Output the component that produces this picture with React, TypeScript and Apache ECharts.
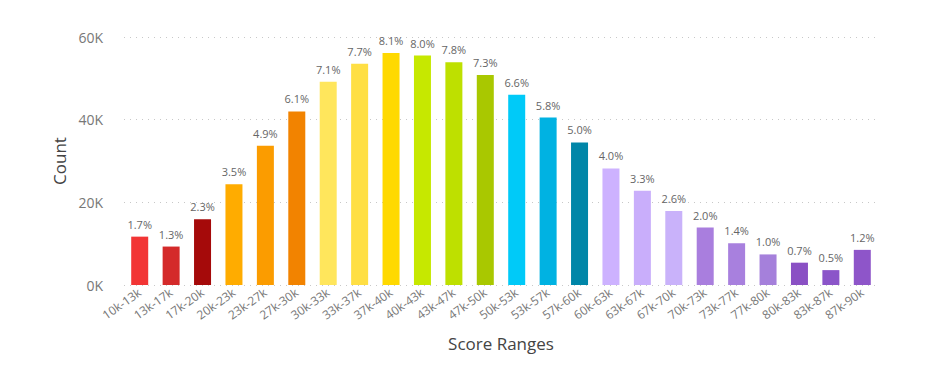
import React, { useEffect, useRef } from "react";
import * as echarts from "echarts";

const categories = [
  "10k-13k", "13k-17k", "17k-20k", "20k-23k", "23k-27k", "27k-30k",
  "30k-33k", "33k-37k", "37k-40k", "40k-43k", "43k-47k", "47k-50k",
  "50k-53k", "53k-57k", "57k-60k", "60k-63k", "63k-67k", "67k-70k",
  "70k-73k", "73k-77k", "77k-80k", "80k-83k", "83k-87k", "87k-90k",
];

const counts = [
  11700, 9300, 15900, 24400, 33700, 42000,
  49200, 53500, 56100, 55500, 53900, 50800,
  46000, 40500, 34500, 28200, 22800, 17900,
  13900, 10100, 7400, 5400, 3600, 8500,
];

const percentLabels = [
  "1.7%", "1.3%", "2.3%", "3.5%", "4.9%", "6.1%",
  "7.1%", "7.7%", "8.1%", "8.0%", "7.8%", "7.3%",
  "6.6%", "5.8%", "5.0%", "4.0%", "3.3%", "2.6%",
  "2.0%", "1.4%", "1.0%", "0.7%", "0.5%", "1.2%",
];

const barColors = [
  "#F23535", "#D42A2A", "#A50A0A", "#FFAC00", "#FB9C00", "#F28300",
  "#FFE65C", "#FFDF44", "#FFD900", "#C6E800", "#BEE000", "#A9C800",
  "#00CAF8", "#00B2E2", "#0086A8", "#CDB2FF", "#C9AEFB", "#C9B2FA",
  "#A97EDE", "#A880DE", "#A580DB", "#8A50C4", "#8B55C9", "#8E55C9",
];

const yTicks = [0, 20000, 40000, 60000];

const FONT = "'Open Sans', 'DejaVu Sans', sans-serif";

export default function App() {
  const ref = useRef<HTMLDivElement>(null);
  useEffect(() => {
    if (!ref.current) return;
    const chart = echarts.init(ref.current, null, { renderer: "svg" });
    chart.setOption({
      animation: false,
      backgroundColor: "#ffffff",
      grid: { left: 116, right: 54, top: 29, bottom: 89 },
      xAxis: {
        type: "category",
        data: categories,
        name: "Score Ranges",
        nameLocation: "middle",
        nameGap: 50,
        nameTextStyle: { fontFamily: FONT, fontSize: 17, color: "#444" },
        axisLine: { show: false },
        axisTick: { show: false },
        axisLabel: {
          rotate: 35,
          interval: 0,
          margin: 6,
          fontFamily: FONT,
          fontSize: 12,
          color: "#777",
        },
      },
      yAxis: {
        type: "value",
        min: yTicks[0],
        max: yTicks[yTicks.length - 1],
        interval: 20000,
        name: "Count",
        nameLocation: "middle",
        nameGap: 53,
        nameTextStyle: { fontFamily: FONT, fontSize: 17, color: "#444" },
        axisLabel: {
          margin: 21,
          fontFamily: FONT,
          fontSize: 14,
          color: "#777",
          formatter: (v: number) => `${v / 1000}K`,
        },
        splitLine: {
          show: true,
          lineStyle: { type: [1, 5], color: "#c8c8c8", width: 1 },
        },
      },
      series: [
        {
          type: "bar",
          barWidth: 17,
          data: counts.map((v, i) => ({
            value: v,
            itemStyle: { color: barColors[i] },
          })),
          label: {
            show: true,
            position: "top",
            distance: 7,
            fontFamily: FONT,
            fontSize: 11,
            color: "#666",
            formatter: (p: any) => percentLabels[p.dataIndex],
          },
        },
      ],
    });
    return () => chart.dispose();
  }, []);
  return <div ref={ref} style={{ width: 924, height: 366 }} />;
}
